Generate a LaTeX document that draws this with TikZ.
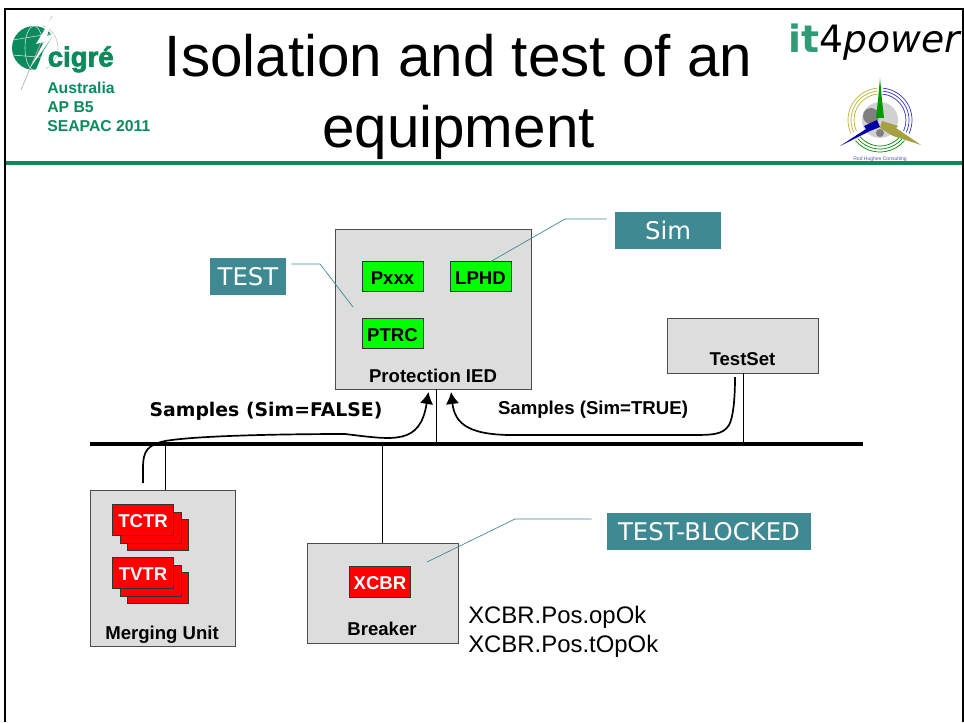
\documentclass[tikz,border=0pt]{standalone}
\usepackage{fontspec}
\setmainfont{Liberation Sans}
\newfontfamily\verdana{DejaVu Sans}
\newfontfamily\cigrefont[FakeBold=2.5]{Liberation Sans Bold}
\usetikzlibrary{arrows.meta}
\definecolor{cigregreen}{HTML}{0B8A5C}
\definecolor{tealbox}{HTML}{3F8A92}
\definecolor{devgray}{HTML}{DDDDDD}
\newcommand{\fsz}[1]{\fontsize{#1}{#1}\selectfont}
\tikzset{
  device/.style={draw=black!70, fill=devgray, line width=0.6pt, inner sep=0pt},
  devlabel/.style={font=\fsz{13.2}\bfseries, inner sep=0pt},
  lnode/.style={draw=black!80, fill=green, line width=0.5pt, minimum width=61*0.025cm, minimum height=30*0.025cm, inner sep=0pt, text height=11.6pt, font=\fsz{13.2}\bfseries},
  rnode/.style={draw=black!80, fill=red, line width=0.6pt, minimum width=61*0.025cm, minimum height=31*0.025cm, inner sep=0pt, text=white, text height=11.6pt, font=\fsz{13.2}\bfseries},
  tagbox/.style={fill=tealbox, text=white, inner sep=0pt, font=\verdana\fsz{17.3}},
  callout/.style={draw=tealbox, line width=0.5pt},
  stream/.style={line width=1.2pt, -{Latex[length=8.5pt,width=9.5pt]}},
  tap/.style={line width=0.7pt},
  ciglabel/.style={font=\fsz{11.2}\bfseries, text=cigregreen, anchor=base west, inner sep=0pt}
}
\begin{document}
\begin{tikzpicture}[x=0.025cm,y=-0.025cm]
        \useasboundingbox (0,0) rectangle (964,722);

        % frame
        \draw[line width=2pt] (5,722) -- (5,9) -- (963,9) -- (963,722);
        \draw[line width=2.2pt, cigregreen] (6,163) -- (962,163);

        % title
        \node[font=\fsz{41.5}, anchor=base, inner sep=0pt] (titlea) at (458.5,77) {Isolation and test of an};
        \node[font=\fsz{41.5}, anchor=base, inner sep=0pt] (titleb) at (458.5,148) {equipment};

        % cigre logo
        \fill[cigregreen] (34,48) circle (22);
        \draw[white!75!gray, line width=0.4pt] (34,48) ellipse (9 and 22);
        \draw[white!75!gray, line width=0.4pt] (13,40) -- (55,33) (12,55) -- (50,58);
        \fill[white] (58,28) -- (66,50) -- (50,78) -- (36,70) -- (44,50) -- cycle;
        \draw[black!25, line width=0.4pt] (34,48) ++(-70:24) arc (-70:60:24);
        \draw[black!30, line width=0.5pt] (52,16) -- (21,90);
        \fill[white] (52,17) -- (36,44) -- (44,42) -- (30,68) -- (55,33) -- (47,36) -- cycle;
        \node[font=\cigrefont\fsz{19.6}, text=cigregreen, anchor=base west, inner sep=0pt] (cigre) at (47.5,66.5) {cigré};
        \node[ciglabel] (aus) at (47,94) {Australia};
        \node[ciglabel] (apb) at (47,113) {AP B5};
        \node[ciglabel] (seapac) at (47,132) {SEAPAC 2011};

        % it4power logo
        \node[font=\verdana\fsz{26.8}, anchor=base west, inner sep=0pt] (itfour) at (788,53) {\textcolor{cigregreen!85}{\bfseries it}4\textit{power}};

        % wind logo
        \fill[black!18] (880,120) circle (18);
        \fill[black!50] (871,116) circle (8);
        \fill[black!50] (880,133) circle (4);
        \foreach \r in {26,29,32} {
          \draw[yellow!70!black, line width=0.5pt] (880,120) ++(-95:\r) arc (-95:-205:\r);
          \draw[blue!60!gray, line width=0.5pt] (880,120) ++(-85:\r) arc (-85:25:\r);
          \draw[green!55!black, line width=0.5pt] (880,120) ++(140:\r) arc (140:40:\r);
        }
        \fill[green!60!black] (880,78) -- (882,100) -- (884,118) -- (876,118) -- (878,100) -- cycle;
        \fill[blue!65!black] (840,146) -- (866,129) -- (864,126) -- (877,120) -- (880,127) -- (870,131) -- cycle;
        \fill[yellow!60!black] (921,145) -- (896,128) -- (898,126) -- (882,121) -- (880,128) -- (893,136) -- cycle;
        \node[font=\fsz{3.6}, text=blue!30!gray, inner sep=0pt] (rod) at (880,159) {Rod Hughes Consulting};

        % bus
        \coordinate (busL) at (90,444);
        \coordinate (busR) at (863,444);
        \draw[line width=2.8pt] (busL) -- (busR);

        % devices
        \node[device, minimum width=196*0.025cm, minimum height=160*0.025cm] (ied) at (433,309) {};
        \node[devlabel, anchor=base] (iedtxt) at (433,382) {Protection IED};
        \node[device, minimum width=151*0.025cm, minimum height=55*0.025cm] (testset) at (742.5,345.5) {};
        \node[devlabel, anchor=base] (testtxt) at (742.5,365) {TestSet};
        \node[device, minimum width=145*0.025cm, minimum height=156*0.025cm] (mu) at (162.5,568) {};
        \node[devlabel, anchor=base] (mutxt) at (162,639) {Merging Unit};
        \node[device, minimum width=151*0.025cm, minimum height=100*0.025cm] (breaker) at (382.5,593) {};
        \node[devlabel, anchor=base] (brtxt) at (382,635) {Breaker};

        \node[lnode] (pxxx) at (392.5,276) {Pxxx};
        \node[lnode] (lphd) at (480.5,276) {LPHD};
        \node[lnode] (ptrc) at (392.5,333) {PTRC};
        \node[rnode] (xcbr) at (380,581.5) {XCBR};

        % stacked logical nodes
        \foreach \d in {15,8} {
          \node[rnode] (tctr\d) at (143+\d,519.5+\d) {};
          \node[rnode] (tvtr\d) at (143+\d,572.5+\d) {};
        }
        \node[rnode] (tctr) at (143,519.5) {TCTR};
        \node[rnode] (tvtr) at (143,572.5) {TVTR};

        % taps on the bus
        \coordinate (tapmu) at (165,444);
        \coordinate (tapied) at (436,444);
        \coordinate (tapbr) at (382,444);
        \coordinate (tapts) at (743,444);
        \draw[tap] (tapmu) -- (tapmu |- mu.north);
        \draw[tap] (tapied) -- (tapied |- ied.south);
        \draw[tap] (tapbr) -- (tapbr |- breaker.north);
        \draw[tap] (tapts) -- (tapts |- testset.south);

        % sample streams
        \coordinate (muout) at (143,483);
        \coordinate (iedinl) at (428.5,392);
        \coordinate (tsout) at (735,377);
        \coordinate (iedinr) at (451,392);
        \draw[stream] (muout) -- (143,468) .. controls (143,450) and (148,445) .. (165,441) .. controls (200,435) and (300,434) .. (345,434) .. controls (395,440) and (420,445) .. (iedinl);
        \draw[stream] (tsout) .. controls (735,400) and (733,418) .. (729,425) .. controls (723,435) and (712,435) .. (690,435) -- (520,435) .. controls (470,436) and (455,425) .. (iedinr);

        \node[font=\verdana\fsz{13.4}\bfseries, inner sep=0pt] (falsetxt) at (266,411) {Samples (Sim=FALSE)};
        \node[font=\fsz{13.25}\bfseries, inner sep=0pt] (truetxt) at (593,409.5) {Samples (Sim=TRUE)};

        % tags
        \node[tagbox, minimum width=76*0.025cm, minimum height=37*0.025cm] (testtag) at (248,276.5) {TEST};
        \node[tagbox, minimum width=106*0.025cm, minimum height=37*0.025cm] (simtag) at (668,230.5) {Sim};
        \node[tagbox, minimum width=204*0.025cm, minimum height=37*0.025cm] (blocktag) at (709,531.5) {TEST-BLOCKED};

        \coordinate (testend) at (353,307);
        \coordinate (simend) at (490,262);
        \coordinate (blockend) at (427,562);
        \draw[callout] (testtag.east |- 0,264) ++(5,0) -- (320,264) -- (testend);
        \draw[callout] (simtag.west |- 0,219) ++(-8,0) -- (565,219) -- (simend);
        \draw[callout] (blocktag.west |- 0,519) ++(-15,0) -- (515,519) -- (blockend);

        % status text
        \node[font=\fsz{17}, anchor=base west, inner sep=0pt] (statusa) at (468,623) {XCBR.Pos.opOk};
        \node[font=\fsz{17}, anchor=base west, inner sep=0pt] (statusb) at (468,652) {XCBR.Pos.tOpOk};

      \end{tikzpicture}
\end{document}
